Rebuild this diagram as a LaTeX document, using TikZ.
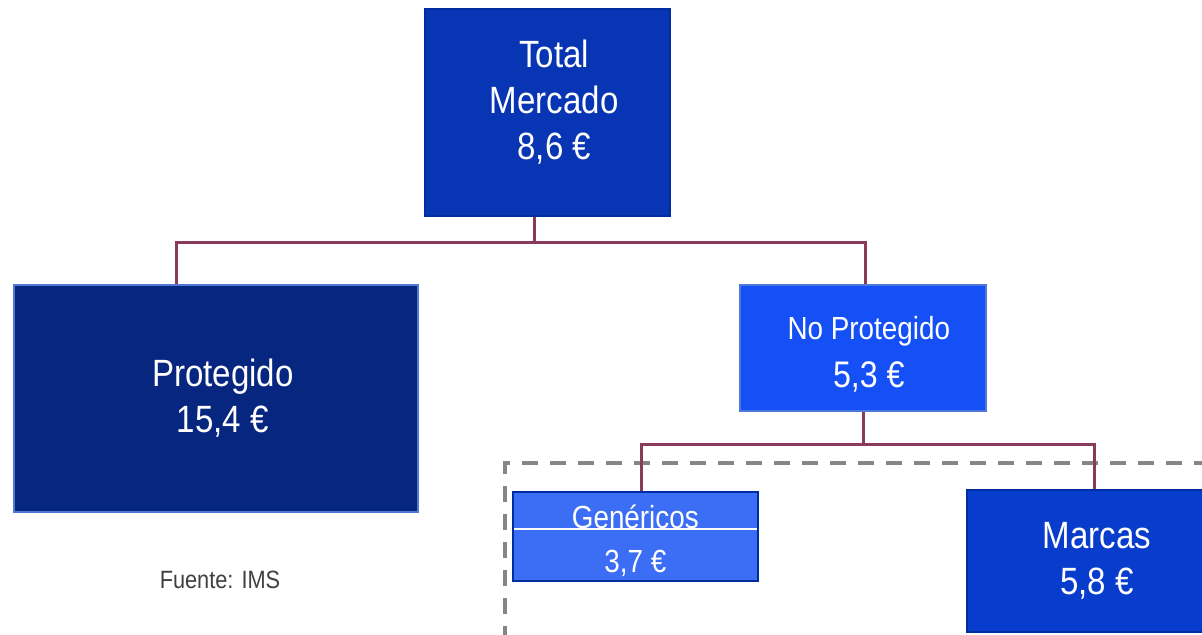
\documentclass[tikz,border=0pt]{standalone}
\usepackage{fontspec}
\setmainfont[FakeStretch=0.87]{Liberation Sans}
\usetikzlibrary{positioning}

\definecolor{totalblue}{RGB}{8,53,180}
\definecolor{navyblue}{RGB}{7,38,128}
\definecolor{brightblue}{RGB}{20,80,245}
\definecolor{lightblue}{RGB}{60,110,245}
\definecolor{brandblue}{RGB}{8,60,205}
\definecolor{edgeblue}{RGB}{0,45,160}
\definecolor{paleedge}{RGB}{80,120,215}
\definecolor{linkred}{RGB}{138,58,90}

\tikzset{
  box/.style={anchor=north west, draw=edgeblue, line width=0.8pt, text=white,
    align=center, inner sep=0pt},
  big/.style={font=\fontsize{19}{23}\selectfont},
  small/.style={font=\fontsize{16}{22}\selectfont},
  link/.style={draw=linkred, line width=1.5pt},
}

\begin{document}
\begin{tikzpicture}[x=0.5pt,y=-0.5pt]
\useasboundingbox (0,0) rectangle (1202,634);

% dashed frame round the non-protected branch
\draw[gray!95, line width=2pt, dash pattern=on 8pt off 6pt] (1210,463) -| (505,640);

% boxes
\node[box, big, fill=totalblue, minimum width=122.5pt, minimum height=103.5pt] (total) at (424,8)
  {\hspace*{7pt}Total\\\hspace*{7pt}Mercado\\\hspace*{7pt}8,6 €\\[-10pt]};
\node[box, big, fill=navyblue, draw=paleedge, minimum width=202pt, minimum height=113.5pt] (prot) at (13,284)
  {\hspace*{7pt}Protegido\\\hspace*{7pt}15,4 €};
\node[box, font=\fontsize{16}{23}\selectfont, fill=brightblue, draw=paleedge, minimum width=123pt, minimum height=63pt] (noprot) at (739,284)
  {\rule{0pt}{18pt}\hspace*{6pt}No Protegido\\[1pt]\hspace*{6pt}{\fontsize{18.5}{23}\selectfont 5,3 €}};
\node[box, small, fill=lightblue, minimum width=122.5pt, minimum height=44.5pt] (gen) at (512,491)
  {\rule{0pt}{16.5pt}Genéricos\\3,7 €};
\node[box, big, fill=brandblue, minimum width=130pt, minimum height=71pt] (marcas) at (966,489)
  {Marcas\\5,8 €};
\draw[white, line width=0.6pt] ([xshift=1pt,yshift=-19pt]gen.north west) -- ([xshift=-1pt,yshift=-19pt]gen.north east);

\node[font=\fontsize{12.5}{15}\selectfont, text=black!75] (fuente) at (220,580) {Fuente: IMS};

% connectors
\coordinate (bus1) at (534,242);
\coordinate (bus1l) at (176,242);
\coordinate (bus1r) at (865,242);
\coordinate (bus2) at (863,444);
\coordinate (bus2l) at (641,444);
\coordinate (bus2r) at (1094,444);
\draw[link] (bus1 |- total.south) -- (bus1);
\draw[link] (bus1l |- prot.north) -- (bus1l) -- (bus1r) -- (bus1r |- noprot.north);
\draw[link] (bus2 |- noprot.south) -- (bus2);
\draw[link] (bus2l |- gen.north) -- (bus2l) -- (bus2r) -- (bus2r |- marcas.north);
\end{tikzpicture}
\end{document}
